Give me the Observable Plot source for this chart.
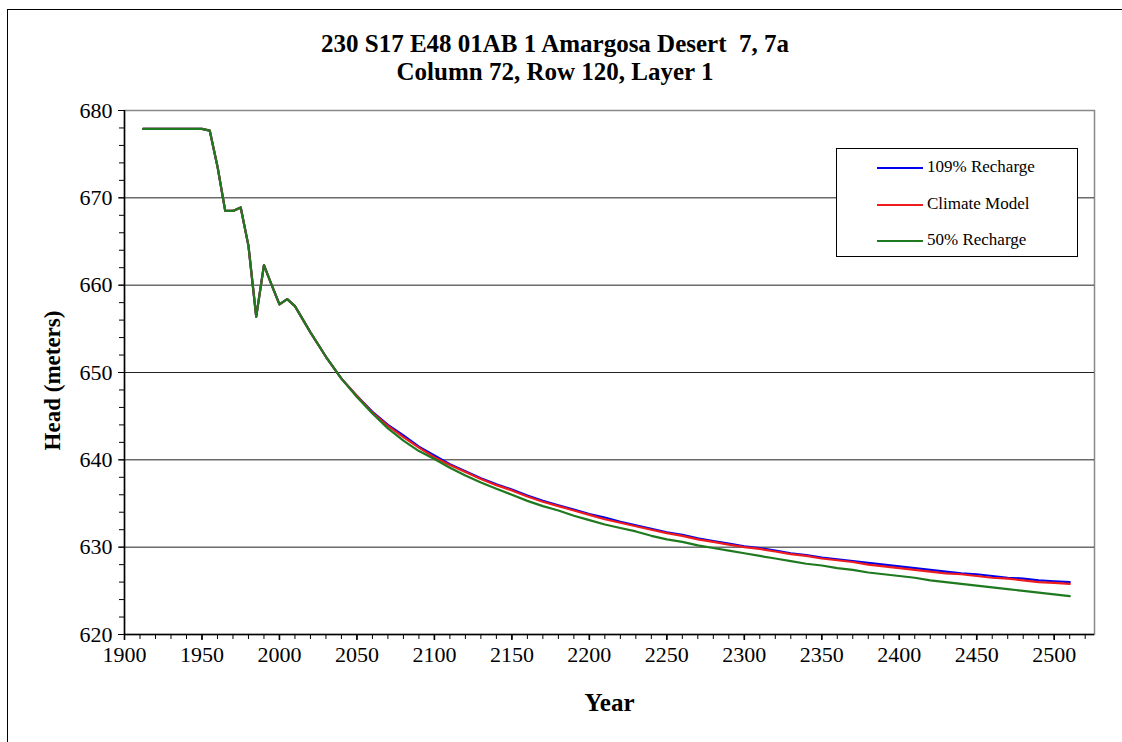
<!DOCTYPE html>
<html>
<head>
<meta charset="utf-8">
<script src="https://cdn.jsdelivr.net/npm/d3@7"></script>
<script src="https://cdn.jsdelivr.net/npm/@observablehq/plot@0.6"></script>
<style>
  html, body { margin: 0; padding: 0; background: #fff; overflow: hidden; }
  #wrap { position: relative; width: 1122px; height: 742px; font-family: "Liberation Serif", "Times New Roman", serif; }
  #border { position: absolute; left: 7px; top: 9px; width: 1200px; height: 800px; border: 1px solid #000; }
  #chart { position: absolute; left: 0; top: 0; }
  .title { position: absolute; left: 0; width: 1110px; text-align: center; font-weight: bold; font-size: 25px; line-height: 28px; color: #000; }
  #legend { position: absolute; left: 836px; top: 148px; width: 242px; height: 109px; border: 1px solid #000; background: #fff; box-sizing: border-box; }
  .lg { position: absolute; left: 0; height: 20px; font-size: 17px; }
  .lg span.sw { position: absolute; left: 40px; top: 10px; width: 46px; height: 2px; }
  .lg span.tx { position: absolute; left: 90px; top: 0px; white-space: nowrap; line-height: 20px; }
</style>
</head>
<body>
<div id="wrap">
  <div id="border"></div>
  <div id="chart"></div>
  <div class="title" style="top:30px">230 S17 E48 01AB 1 Amargosa Desert&nbsp; 7, 7a</div>
  <div class="title" style="top:58px">Column 72, Row 120, Layer 1</div>
  <div id="legend"></div>
</div>
<script>
// ---- data ----
const years = [1912, 1920, 1930, 1940, 1950, 1955, 1960, 1965, 1970, 1975, 1980, 1985, 1990, 1995, 2000, 2005, 2010,
  2020, 2030, 2040, 2050, 2060, 2070, 2080, 2090, 2100, 2110, 2120, 2130, 2140, 2150, 2160, 2170, 2180, 2190, 2200,
  2210, 2220, 2230, 2240, 2250, 2260, 2270, 2280, 2290, 2300, 2310, 2320, 2330, 2340, 2350, 2360, 2370, 2380, 2390, 2400,
  2410, 2420, 2430, 2440, 2450, 2460, 2470, 2480, 2490, 2500, 2510];

const recharge109 = [677.9, 677.9, 677.9, 677.9, 677.9, 677.7, 673.6, 668.5, 668.5, 668.9, 664.5, 656.4, 662.3, 660.0, 657.8, 658.4, 657.6,
  654.6, 651.8, 649.3, 647.3, 645.5, 644.0, 642.8, 641.5, 640.5, 639.5, 638.7, 637.9, 637.2, 636.6, 635.9, 635.3, 634.8, 634.3, 633.8,
  633.4, 632.9, 632.5, 632.1, 631.7, 631.4, 631.0, 630.7, 630.4, 630.1, 629.9, 629.6, 629.3, 629.1, 628.8, 628.6, 628.4, 628.2, 628.0, 627.8,
  627.6, 627.4, 627.2, 627.0, 626.9, 626.7, 626.5, 626.4, 626.2, 626.1, 626.0];

const climateModel = [677.9, 677.9, 677.9, 677.9, 677.9, 677.7, 673.6, 668.5, 668.5, 668.9, 664.5, 656.4, 662.3, 660.0, 657.8, 658.4, 657.6,
  654.6, 651.8, 649.3, 647.3, 645.4, 643.9, 642.6, 641.4, 640.3, 639.4, 638.6, 637.8, 637.1, 636.5, 635.8, 635.2, 634.7, 634.2, 633.7,
  633.2, 632.8, 632.4, 632.0, 631.6, 631.3, 630.9, 630.6, 630.3, 630.0, 629.8, 629.5, 629.2, 629.0, 628.7, 628.5, 628.3, 628.0, 627.8, 627.6,
  627.4, 627.2, 627.0, 626.9, 626.7, 626.5, 626.4, 626.2, 626.0, 625.9, 625.8];

const recharge50 = [677.9, 677.9, 677.9, 677.9, 677.9, 677.7, 673.6, 668.5, 668.5, 668.9, 664.5, 656.4, 662.3, 660.0, 657.8, 658.4, 657.6,
  654.6, 651.8, 649.3, 647.2, 645.3, 643.6, 642.2, 641.0, 640.1, 639.1, 638.2, 637.4, 636.7, 636.0, 635.3, 634.7, 634.2, 633.6, 633.1,
  632.6, 632.2, 631.8, 631.3, 630.9, 630.6, 630.2, 629.9, 629.6, 629.3, 629.0, 628.7, 628.4, 628.1, 627.9, 627.6, 627.4, 627.1, 626.9, 626.7,
  626.5, 626.2, 626.0, 625.8, 625.6, 625.4, 625.2, 625.0, 624.8, 624.6, 624.4];

const seriesNames = ["109% Recharge", "Climate Model", "50% Recharge"];
const seriesColors = ["#0000ee", "#ee1c1c", "#1f7a1f"];
const seriesValues = [recharge109, climateModel, recharge50];

const xMajorTicks = d3.range(1900, 2501, 50);
const xMinorTicks = d3.range(1900, 2521, 10);
const yMajorTicks = d3.range(620, 681, 10);
const yMinorTicks = d3.range(620, 681, 2);
const gridValues = [630, 640, 650, 660, 670];

// ---- build table ----
const rows = [];
seriesNames.forEach((name, i) => {
  years.forEach((yr, j) => rows.push({ series: name, year: yr, head: seriesValues[i][j] }));
});

const chart = Plot.plot({
  width: 1122,
  height: 742,
  marginLeft: 124,
  marginRight: 28,
  marginTop: 110,
  marginBottom: 108,
  style: { fontFamily: "Liberation Serif, Times New Roman, serif", fontSize: "21px", color: "#000", background: "transparent" },
  x: { domain: [1900, 2526], label: null },
  y: { domain: [620, 680], label: null },
  color: { domain: seriesNames, range: seriesColors },
  marks: [
    Plot.frame({ stroke: "#888", strokeWidth: 1.5 }),
    Plot.ruleY(gridValues, { stroke: "#222", strokeWidth: 1 }),
    Plot.axisX({ ticks: xMinorTicks, tickSize: 5, text: null, stroke: "#000" }),
    Plot.axisX({ ticks: xMajorTicks, tickSize: 6, tickPadding: 6, tickFormat: d => String(d), strokeWidth: 1.6, label: null, fontSize: 22 }),
    Plot.axisY({ ticks: yMinorTicks, tickSize: 5, text: null }),
    Plot.axisY({ ticks: yMajorTicks, tickSize: 6, tickPadding: 6, tickFormat: d => String(d), label: null, fontSize: 22 }),
    Plot.ruleX([1900], { stroke: "#000", strokeWidth: 1.5 }),
    Plot.ruleY([620], { stroke: "#000", strokeWidth: 1.5 }),
    Plot.line(rows, { x: "year", y: "head", z: "series", stroke: "series", strokeWidth: 2.2 }),
    Plot.text(["Year"], { frameAnchor: "bottom", dy: 76, fontWeight: "bold", fontSize: 25 }),
    Plot.text(["Head (meters)"], { frameAnchor: "left", textAnchor: "middle", dx: -72, dy: 8, rotate: -90, fontWeight: "bold", fontSize: 23 })
  ]
});
document.getElementById("chart").appendChild(chart);

// ---- legend ----
const legend = document.getElementById("legend");
seriesNames.forEach((name, i) => {
  const row = document.createElement("div");
  row.className = "lg";
  row.style.top = (8 + i * 36.5) + "px";
  row.style.width = "100%";
  row.innerHTML = `<span class="sw" style="background:${seriesColors[i]}"></span><span class="tx">${name}</span>`;
  legend.appendChild(row);
});
</script>
</body>
</html>
